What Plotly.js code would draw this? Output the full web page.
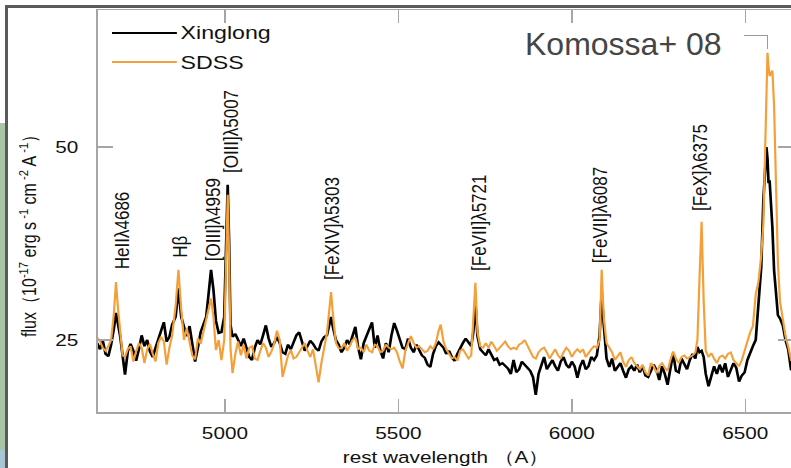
<!DOCTYPE html>
<html>
<head>
<meta charset="utf-8">
<script src="https://cdn.plot.ly/plotly-3.0.1.min.js"></script>
<style>
  html, body { margin: 0; padding: 0; width: 791px; height: 468px; overflow: hidden; background: #fff; }
  #wrap { position: absolute; left: 0; top: 0; width: 651px; height: 468px; transform: scaleX(1.22); transform-origin: 0 0; }
  #chart { width: 651px; height: 468px; }
  .frame-v { position: absolute; left: 5px; top: 5px; width: 3px; height: 463px; background: #5a5a5a; }
  .frame-h { position: absolute; left: 5px; top: 5px; width: 786px; height: 3px; background: #5a5a5a; }
  .strip { position: absolute; left: 0; top: 123px; width: 5px; height: 327px; background: #a9c5a6; }
  .strip2 { position: absolute; left: 0; top: 450px; width: 5px; height: 18px; background: #a8c6d6; }
  .bracket { position: absolute; left: 744px; top: 35px; width: 23px; height: 13px; border-top: 1.5px solid #9a9a9a; border-right: 1.5px solid #9a9a9a; }
  #note { position: absolute; left: 525px; top: 28px; font-family: "Liberation Sans", Arial, sans-serif; font-size: 32px; line-height: 32px; color: #454545; white-space: nowrap; }
</style>
</head>
<body>
<div id="wrap"><div id="chart"></div></div>
<div class="strip"></div>
<div class="strip2"></div>
<div class="frame-v"></div>
<div class="frame-h"></div>
<div class="bracket"></div>
<div id="note">Komossa+ 08</div>
<script>
// Rest-frame wavelength grid (Angstrom)
var wavelength = [
  4632, 4640, 4648, 4656, 4664, 4672, 4680, 4686, 4692, 4698, 4705, 4712, 4720, 4728, 4736, 4744,
  4752, 4760, 4768, 4776, 4784, 4792, 4800, 4808, 4816, 4824, 4832, 4840, 4848, 4858, 4866, 4874,
  4882, 4890, 4898, 4906, 4914, 4922, 4930, 4938, 4946, 4953, 4960, 4967, 4974, 4982, 4990, 4998,
  5004, 5008, 5012, 5016, 5022, 5030, 5038, 5046, 5054, 5062, 5070, 5078, 5086, 5094, 5102, 5110,
  5118, 5126, 5134, 5142, 5150, 5158, 5166, 5174, 5182, 5190, 5198, 5206, 5214, 5222, 5230, 5238,
  5246, 5254, 5262, 5270, 5278, 5286, 5294, 5300, 5306, 5312, 5320, 5328, 5336, 5344, 5352, 5360,
  5368, 5376, 5384, 5392, 5400, 5408, 5416, 5424, 5432, 5440, 5448, 5456, 5464, 5472, 5480, 5488,
  5496, 5504, 5512, 5520, 5528, 5536, 5544, 5552, 5560, 5568, 5576, 5584, 5592, 5600, 5608, 5616,
  5622, 5630, 5638, 5646, 5654, 5662, 5670, 5678, 5686, 5694, 5702, 5710, 5716, 5722, 5728, 5736,
  5744, 5752, 5760, 5768, 5776, 5784, 5792, 5800, 5808, 5816, 5824, 5832, 5840, 5848, 5856, 5864,
  5872, 5880, 5888, 5896, 5904, 5912, 5920, 5928, 5936, 5944, 5952, 5960, 5968, 5976, 5984, 5992,
  6000, 6008, 6016, 6024, 6032, 6040, 6048, 6056, 6064, 6072, 6080, 6086, 6092, 6100, 6108, 6116,
  6124, 6132, 6140, 6148, 6156, 6164, 6172, 6180, 6188, 6196, 6204, 6212, 6220, 6228, 6236, 6244,
  6252, 6260, 6268, 6276, 6284, 6292, 6300, 6308, 6316, 6324, 6332, 6340, 6348, 6356, 6362, 6368,
  6374, 6380, 6386, 6394, 6402, 6410, 6418, 6426, 6434, 6442, 6450, 6458, 6466, 6474, 6482, 6490,
  6498, 6506, 6514, 6522, 6530, 6538, 6546, 6552, 6556, 6561, 6564, 6567, 6570, 6574, 6578, 6583,
  6588, 6594, 6600, 6608, 6616, 6624, 6632, 6640
];

// Xinglong spectrum, flux in 1e-17 erg/s/cm2/A
var fluxXinglong = [
  24.6, 23.8, 24.9, 23.2, 22.9, 24.4, 26.5, 28.5, 27.0, 25.5, 23.0, 20.5, 23.5, 24.5, 23.6, 22.3,
  23.8, 25.6, 24.2, 25.0, 23.5, 22.8, 24.0, 25.2, 26.0, 27.3, 24.8, 25.4, 27.0, 28.0, 31.7, 28.0,
  26.7, 25.5, 26.8, 24.5, 22.2, 24.0, 26.0, 27.0, 28.0, 31.0, 34.1, 31.5, 27.5, 25.9, 26.0, 28.0,
  40.0, 45.1, 38.0, 27.0, 25.4, 25.8, 25.0, 24.2, 25.2, 23.8, 22.8, 22.4, 24.0, 25.0, 24.4, 25.6,
  26.9, 25.2, 24.1, 24.6, 25.4, 24.6, 23.4, 23.2, 24.4, 23.8, 24.8, 25.6, 26.0, 24.6, 23.6, 24.2,
  24.9, 24.5, 23.9, 23.6, 24.8, 25.4, 25.6, 26.8, 28.0, 26.5, 25.0, 24.4, 23.4, 24.0, 25.0, 24.4,
  25.6, 26.7, 24.0, 22.5, 24.6, 25.6, 26.4, 27.3, 24.0, 25.6, 23.6, 22.6, 24.6, 23.4, 25.6, 27.2,
  26.2, 25.2, 24.0, 23.8, 25.2, 24.0, 23.4, 24.4, 23.6, 23.0, 22.7, 21.8, 21.5, 23.2, 24.2, 24.7,
  24.4, 24.0, 23.2, 23.6, 22.8, 22.3, 23.2, 24.0, 24.6, 25.2, 24.6, 24.2, 26.0, 29.8, 25.5, 23.8,
  23.4, 23.0, 23.8, 23.2, 22.4, 22.6, 21.8, 22.0, 21.6, 21.3, 20.6, 22.4, 20.8, 21.2, 22.2, 21.8,
  21.5, 21.0, 20.2, 17.9, 20.6, 21.6, 22.8, 21.2, 21.8, 22.4, 21.6, 21.0, 22.2, 22.8, 21.8, 21.4,
  22.2, 21.6, 20.1, 21.6, 22.4, 21.2, 21.6, 22.8, 22.4, 23.0, 25.6, 31.1, 27.0, 22.6, 21.5, 22.6,
  21.0, 21.6, 22.0, 21.0, 20.1, 21.2, 21.6, 21.0, 21.8, 20.8, 21.6, 20.4, 20.2, 21.0, 21.8, 21.1,
  19.8, 21.6, 20.6, 19.2, 21.4, 23.3, 21.0, 20.8, 22.6, 22.0, 21.2, 22.4, 23.2, 22.6, 24.1, 23.4,
  23.6, 22.8, 20.6, 19.0, 20.2, 21.6, 20.6, 21.8, 20.8, 22.0, 20.2, 21.2, 22.0, 21.4, 19.6, 20.4,
  20.8, 22.4, 23.4, 24.2, 25.0, 29.3, 34.5, 43.1, 47.0, 50.0, 48.5, 45.3, 45.7, 43.0, 39.6, 34.0,
  31.1, 28.2, 27.8, 26.9, 25.0, 23.7, 21.1, 21.5
];

// SDSS spectrum, same units
var fluxSDSS = [
  25.3, 24.8, 24.0, 23.6, 24.2, 25.0, 28.5, 32.5, 29.0, 26.5, 23.0, 22.8, 23.8, 24.2, 22.2, 23.5,
  24.6, 24.0, 22.0, 23.8, 24.5, 23.2, 22.2, 24.6, 25.4, 24.8, 21.8, 24.0, 25.6, 29.5, 34.1, 29.0,
  25.0, 26.5, 24.8, 23.0, 22.5, 25.2, 24.5, 26.0, 27.5, 29.0, 30.4, 28.0, 23.7, 25.0, 22.4, 25.0,
  38.0, 43.8, 36.0, 24.0, 20.7, 23.2, 24.8, 23.0, 24.4, 22.6, 24.0, 24.2, 22.6, 22.4, 23.6, 24.6,
  24.0, 22.8, 23.5, 24.5, 26.2, 25.0, 20.2, 21.5, 23.0, 23.7, 22.6, 22.8, 23.4, 24.2, 24.6, 23.6,
  22.8, 23.8, 21.6, 19.5, 22.0, 24.0, 25.9, 28.5, 31.2, 28.0, 24.6, 23.9, 23.9, 24.6, 23.6, 24.2,
  25.0, 25.3, 23.8, 24.0, 23.4, 24.4, 23.6, 23.4, 24.4, 24.2, 23.4, 23.6, 24.4, 24.0, 23.8, 24.0,
  23.4, 22.2, 21.3, 23.6, 24.6, 25.5, 24.6, 24.0, 24.2, 23.8, 23.4, 23.6, 24.2, 23.8, 24.6, 26.2,
  27.0, 24.8, 23.8, 23.2, 22.6, 22.8, 22.3, 23.6, 23.8, 23.2, 22.6, 23.0, 27.0, 32.4, 26.0, 24.2,
  24.0, 24.6, 24.0, 24.8, 24.2, 23.6, 24.0, 24.4, 24.8, 24.2, 23.8, 24.0, 23.8, 24.4, 24.6, 25.0,
  24.2, 23.4, 22.8, 22.6, 23.4, 23.8, 24.0, 23.4, 22.6, 23.2, 23.8, 23.0, 22.6, 23.4, 24.0, 23.6,
  22.8, 23.4, 23.8, 23.4, 23.8, 22.8, 23.4, 23.8, 24.2, 24.0, 25.0, 34.1, 28.0, 24.6, 24.0, 23.4,
  22.4, 23.0, 23.4, 22.2, 21.5, 22.4, 22.8, 22.0, 21.6, 21.2, 21.8, 20.8, 20.4, 22.0, 21.6, 20.7,
  21.6, 22.0, 21.4, 21.0, 22.4, 23.5, 22.6, 22.0, 22.8, 23.0, 22.6, 22.8, 23.0, 23.4, 25.0, 33.0,
  40.3, 30.0, 23.6, 22.8, 23.3, 22.6, 22.0, 22.8, 23.0, 22.6, 23.2, 23.4, 22.4, 22.0, 21.6, 22.4,
  23.6, 25.0, 26.0, 26.8, 30.9, 32.6, 36.0, 40.0, 48.6, 58.0, 62.2, 60.5, 59.2, 59.5, 59.9, 55.3,
  46.0, 35.0, 30.0, 27.5, 25.5, 24.1, 22.4, 22.0
];

// Emission-line labels and where each one is written (wavelength, flux at text base)
var lineLabels = ['HeIIλ4686', 'Hβ', '[OIII]λ4959', '[OIII]λ5007', '[FeXIV]λ5303', '[FeVII]λ5721', '[FeVII]λ6087', '[FeX]λ6375'];
var labelWave = [4703, 4872, 4967, 5019, 5310, 5734, 6082, 6370];
var labelFlux = [33.9, 35.4, 35.0, 46.4, 32.5, 33.7, 34.7, 41.5];

var seriesNames = ['Xinglong', 'SDSS'];
var xTickValues = [5000, 5500, 6000, 6500];
var yTickValues = [25, 50];

var FONT = '"Liberation Sans", Arial, Helvetica, sans-serif';
var BLACK = '#000000';
var ORANGE = '#F4A03A';
var AXIS = '#a6a6a6';
var TEXT = '#111111';

var traces = [
  { x: wavelength, y: fluxXinglong, name: seriesNames[0], type: 'scatter', mode: 'lines',
    line: { color: BLACK, width: 2.2 } },
  { x: wavelength, y: fluxSDSS, name: seriesNames[1], type: 'scatter', mode: 'lines',
    line: { color: ORANGE, width: 1.8 } }
];

var annotations = lineLabels.map(function (t, i) {
  return { x: labelWave[i], y: labelFlux[i], xref: 'x', yref: 'y', text: t, showarrow: false,
           textangle: -90, xanchor: 'center', yanchor: 'bottom',
           font: { family: FONT, size: 17, color: TEXT } };
});

// y-axis title
annotations.push({
  xref: 'paper', yref: 'paper', x: -0.1, y: 0.448, xanchor: 'center', yanchor: 'middle',
  textangle: -90, showarrow: false,
  text: 'flux（10<sup>-17</sup> erg s<sup> -1</sup> cm<sup> -2</sup> A<sup> -1</sup>）',
  font: { family: FONT, size: 16, color: TEXT }
});

// legend entries
var legendY = [0.9428, 0.8706];
var legendColors = [BLACK, ORANGE];
var shapes = [];
seriesNames.forEach(function (n, i) {
  annotations.push({ xref: 'paper', yref: 'paper', x: 0.116, y: legendY[i], xanchor: 'left', yanchor: 'middle',
    showarrow: false, text: n, font: { family: FONT, size: 19, color: TEXT } });
  shapes.push({ type: 'line', xref: 'paper', yref: 'paper', x0: 0.0207, x1: 0.1138, y0: legendY[i], y1: legendY[i],
    line: { color: legendColors[i], width: 2 } });
});

var layout = {
  width: 651, height: 468,
  margin: { l: 80, r: 0, t: 10, b: 56, pad: 0 },
  paper_bgcolor: 'rgba(0,0,0,0)',
  plot_bgcolor: '#ffffff',
  showlegend: false,
  font: { family: FONT, color: TEXT, size: 17 },
  xaxis: {
    range: [4633, 6641], tickvals: xTickValues, ticks: 'inside', ticklen: 13, tickwidth: 1.2, tickcolor: AXIS,
    showline: true, linecolor: AXIS, linewidth: 1.5, mirror: 'ticks', showgrid: false, zeroline: false,
    tickfont: { family: FONT, size: 17, color: TEXT }, ticklabelstandoff: 5,
    title: { text: 'rest wavelength （A）', font: { family: FONT, size: 17, color: TEXT }, standoff: 9 }
  },
  yaxis: {
    range: [15.67, 67.75], tickvals: yTickValues, ticks: 'inside', ticklen: 13, tickwidth: 1.2, tickcolor: AXIS,
    showline: true, linecolor: AXIS, linewidth: 1.5, mirror: 'ticks', showgrid: false, zeroline: false,
    tickfont: { family: FONT, size: 17, color: TEXT }, ticklabelstandoff: 11
  },
  annotations: annotations,
  shapes: shapes
};

Plotly.newPlot('chart', traces, layout, { displayModeBar: false, staticPlot: true });
</script>
</body>
</html>
